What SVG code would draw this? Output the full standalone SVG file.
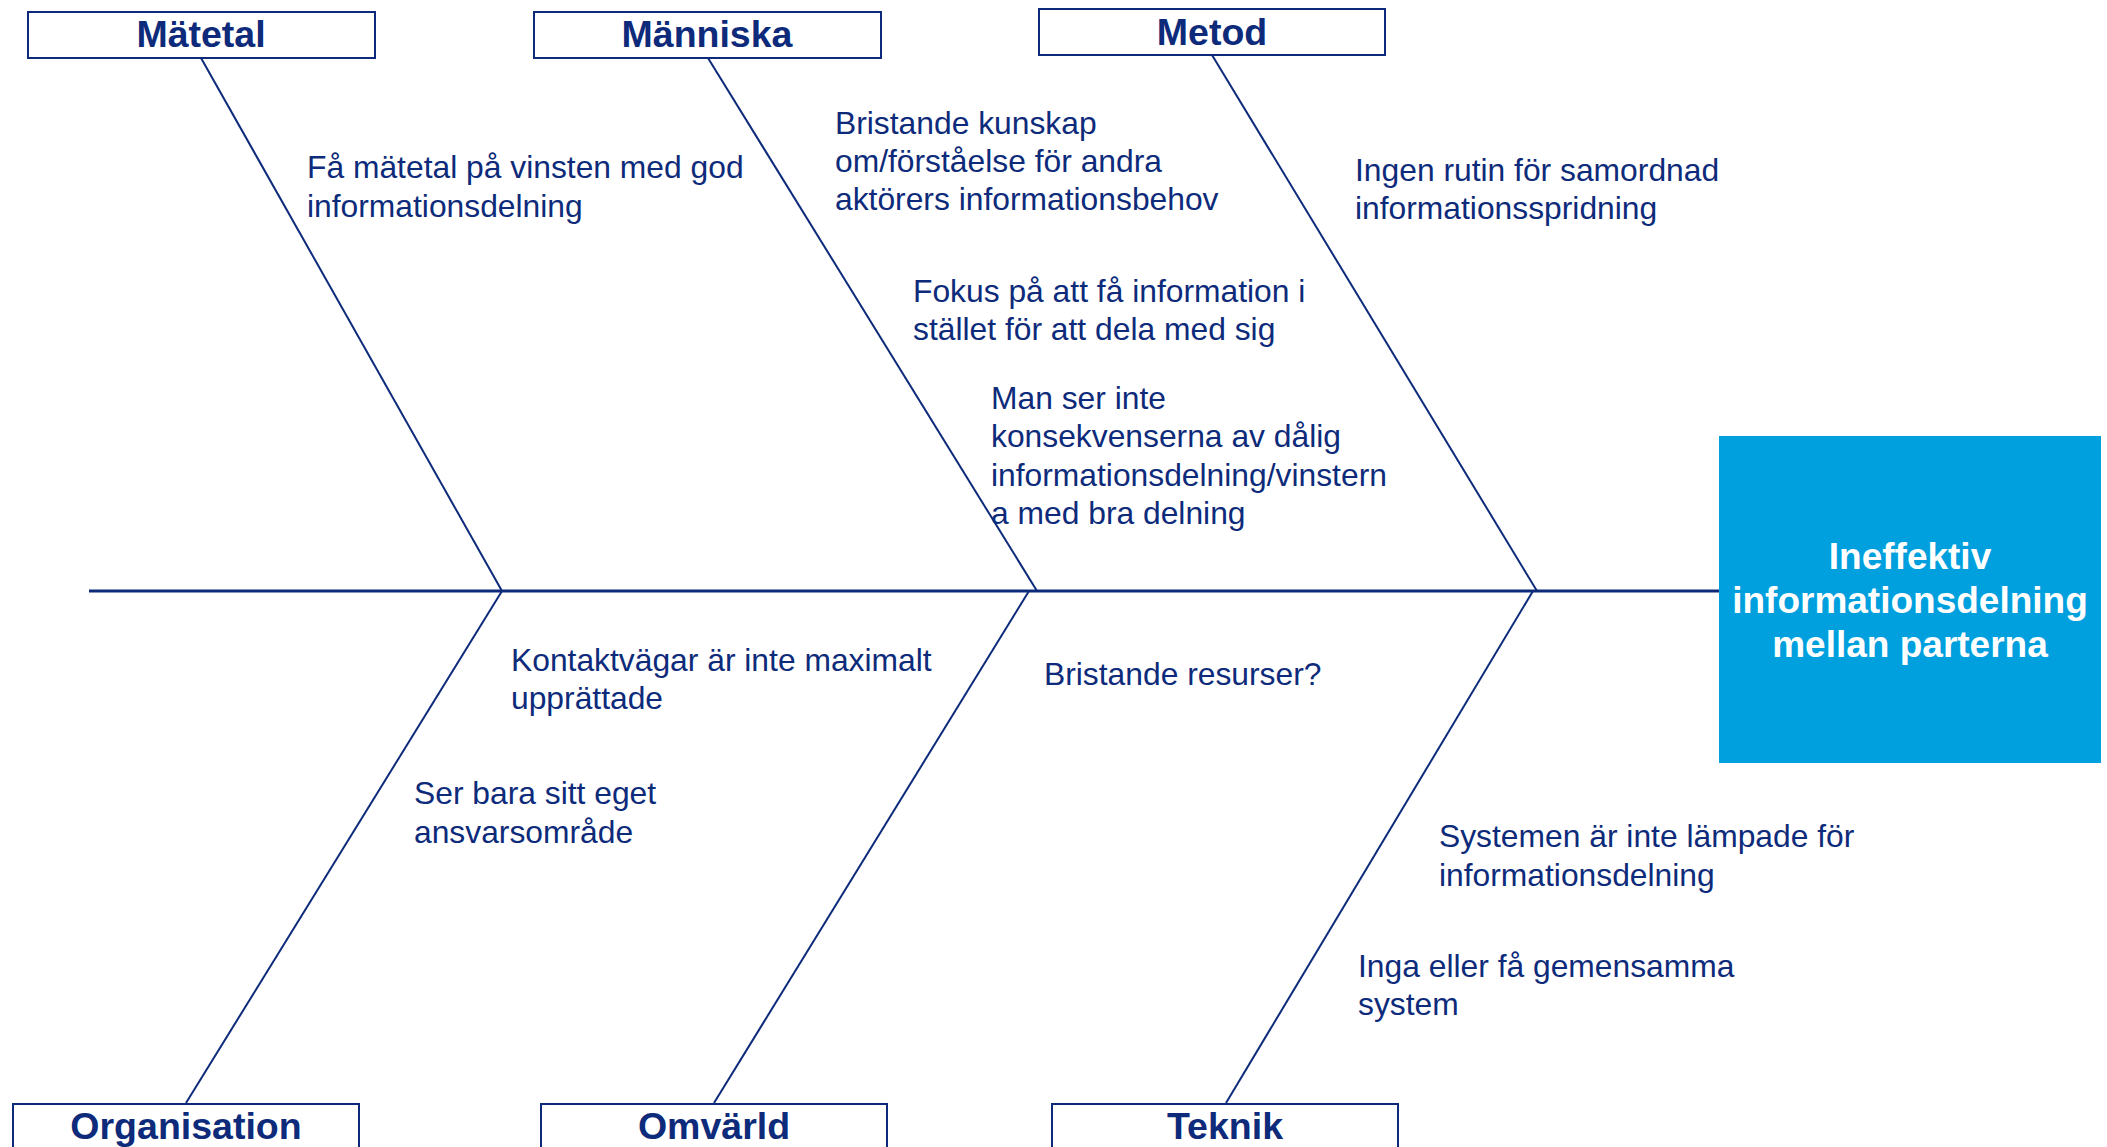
<svg xmlns="http://www.w3.org/2000/svg" width="2107" height="1147" viewBox="0 0 2107 1147">
<style>
.cat rect{fill:#fff;stroke:#0D2B7A;stroke-width:2}
.cat text{font-family:"Liberation Sans",Arial,sans-serif;font-weight:bold;font-size:37.5px;fill:#0D2B7A;text-anchor:middle}
.lbl{font-family:"Liberation Sans",Arial,sans-serif;font-size:31.8px;fill:#0D2B7A}
.bone{stroke:#0D2B7A;stroke-width:2;fill:none}
.effect text{font-family:"Liberation Sans",Arial,sans-serif;font-weight:bold;font-size:37px;fill:#fff;text-anchor:middle}
</style>
<rect width="2107" height="1147" fill="#fff"/>
<g id="connectors">
<line class="bone" x1="89" y1="591" x2="1719" y2="591" style="stroke-width:3"/>
<line class="bone" x1="201" y1="58" x2="502" y2="591"/>
<line class="bone" x1="708" y1="58" x2="1037" y2="591"/>
<line class="bone" x1="1212" y1="55" x2="1537" y2="591"/>
<line class="bone" x1="502" y1="591" x2="186" y2="1103"/>
<line class="bone" x1="1029" y1="591" x2="714" y2="1103"/>
<line class="bone" x1="1533" y1="591" x2="1226" y2="1103"/>
</g>
<g id="effect" class="effect">
<rect x="1719" y="436" width="382" height="327" fill="#00A0DE"/>
<text x="1910" y="569">Ineffektiv</text>
<text x="1910" y="613">informationsdelning</text>
<text x="1910" y="657">mellan parterna</text>
</g>
<g id="matetal" class="cat"><rect x="28" y="12" width="347" height="46"/><text x="201" y="47">Mätetal</text></g>
<g id="manniska" class="cat"><rect x="534" y="12" width="347" height="46"/><text x="707" y="47">Människa</text></g>
<g id="metod" class="cat"><rect x="1039" y="9" width="346" height="46"/><text x="1212" y="45">Metod</text></g>
<g id="organisation" class="cat"><rect x="13" y="1104" width="346" height="46"/><text x="186" y="1139">Organisation</text></g>
<g id="omvarld" class="cat"><rect x="541" y="1104" width="346" height="46"/><text x="714" y="1139">Omvärld</text></g>
<g id="teknik" class="cat"><rect x="1052" y="1104" width="346" height="46"/><text x="1225" y="1139">Teknik</text></g>
<g id="labels">
<text class="lbl" x="307" y="178">Få mätetal på vinsten med god</text>
<text class="lbl" x="307" y="217">informationsdelning</text>
<text class="lbl" x="835" y="134">Bristande kunskap</text>
<text class="lbl" x="835" y="172">om/förståelse för andra</text>
<text class="lbl" x="835" y="210">aktörers informationsbehov</text>
<text class="lbl" x="913" y="302">Fokus på att få information i</text>
<text class="lbl" x="913" y="340">stället för att dela med sig</text>
<text class="lbl" x="991" y="409">Man ser inte</text>
<text class="lbl" x="991" y="447">konsekvenserna av dålig</text>
<text class="lbl" x="991" y="486">informationsdelning/vinstern</text>
<text class="lbl" x="991" y="524">a med bra delning</text>
<text class="lbl" x="1355" y="181">Ingen rutin för samordnad</text>
<text class="lbl" x="1355" y="219">informationsspridning</text>
<text class="lbl" x="511" y="671">Kontaktvägar är inte maximalt</text>
<text class="lbl" x="511" y="709">upprättade</text>
<text class="lbl" x="414" y="804">Ser bara sitt eget</text>
<text class="lbl" x="414" y="843">ansvarsområde</text>
<text class="lbl" x="1044" y="685">Bristande resurser?</text>
<text class="lbl" x="1439" y="847">Systemen är inte lämpade för</text>
<text class="lbl" x="1439" y="886">informationsdelning</text>
<text class="lbl" x="1358" y="977">Inga eller få gemensamma</text>
<text class="lbl" x="1358" y="1015">system</text>
</g>
</svg>
